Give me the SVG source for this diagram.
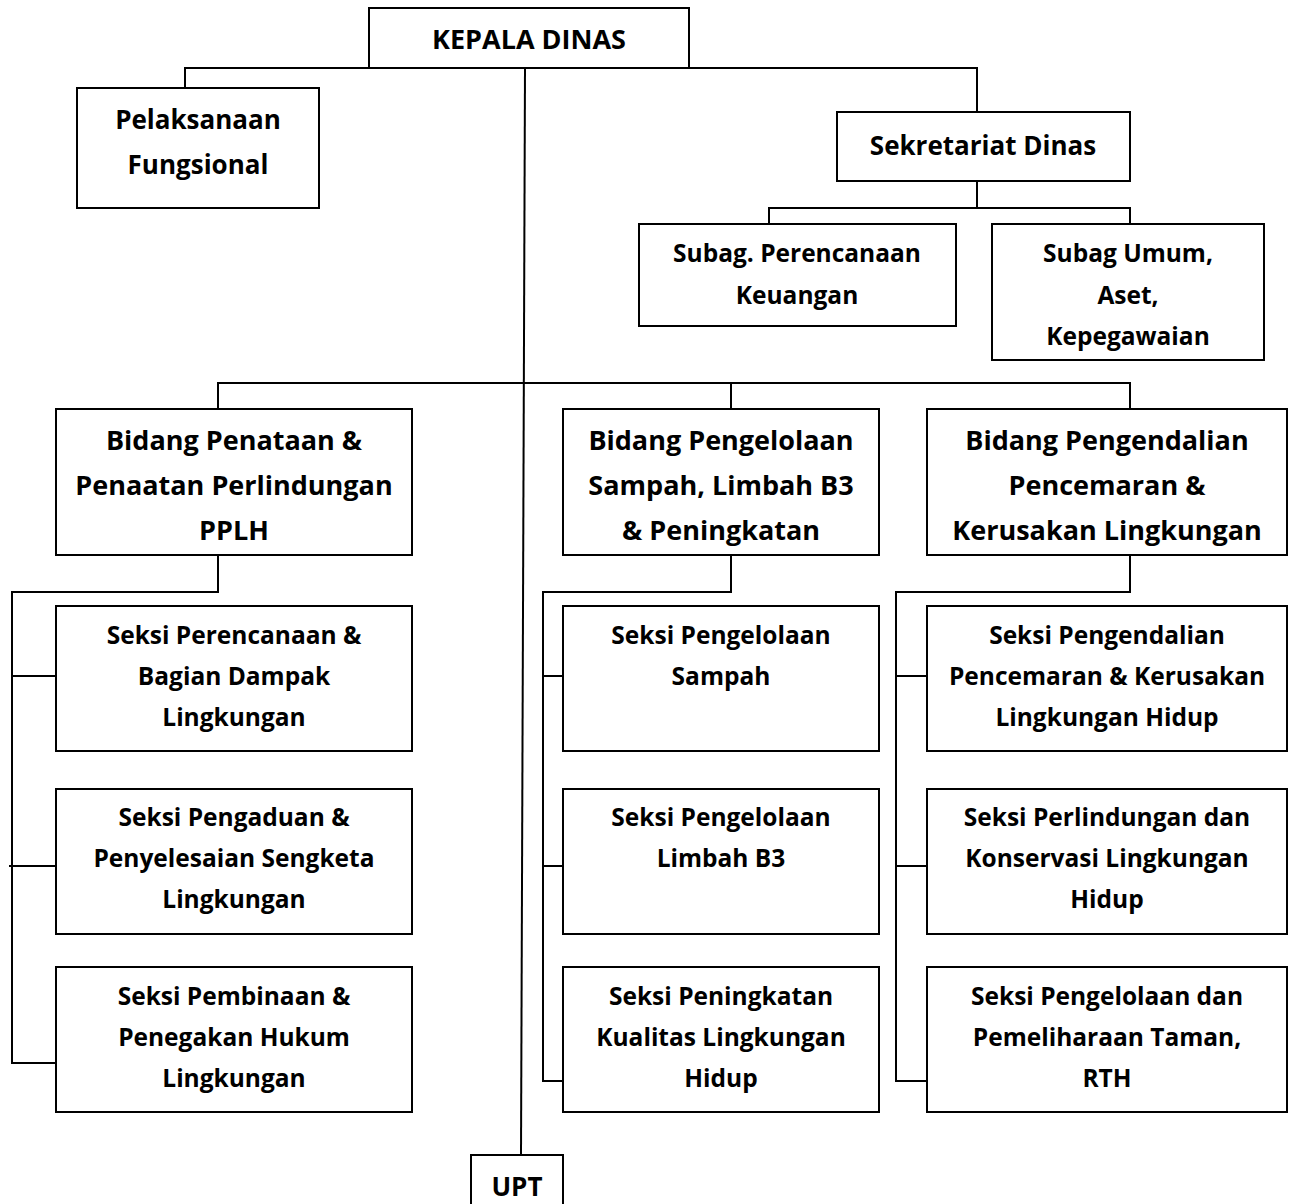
<svg xmlns="http://www.w3.org/2000/svg" width="1292" height="1204" viewBox="0 0 1292 1204">
<style>
.box{fill:#fff;stroke:#000;stroke-width:2}
.ln{fill:none;stroke:#000;stroke-width:2}
text{font-family:"Open Sans",Lato,"Liberation Sans",sans-serif;font-weight:bold;font-size:24.5px;text-anchor:middle;fill:#000}
.lg{font-size:27px}
.md{font-size:26px}
</style>
<rect width="1292" height="1204" fill="#fff"/>
<g id="connectors">
<polyline class="ln" points="185,88 185,68 977,68 977,112"/>
<polyline class="ln" points="525,68 521,1155"/>
<polyline class="ln" points="977,181 977,208"/>
<polyline class="ln" points="769,224 769,208 1130,208 1130,224"/>
<polyline class="ln" points="218,409 218,383 1130,383 1130,409"/>
<line class="ln" x1="731" y1="383" x2="731" y2="409"/>
<polyline class="ln" points="218,555 218,592 12,592 12,1063 56,1063"/>
<line class="ln" x1="12" y1="676" x2="56" y2="676"/>
<line class="ln" x1="9" y1="866" x2="56" y2="866"/>
<polyline class="ln" points="731,555 731,592 543,592 543,1081 563,1081"/>
<line class="ln" x1="543" y1="676" x2="563" y2="676"/>
<line class="ln" x1="543" y1="866" x2="563" y2="866"/>
<polyline class="ln" points="1130,555 1130,592 896,592 896,1081 929,1081"/>
<line class="ln" x1="896" y1="676" x2="927" y2="676"/>
<line class="ln" x1="896" y1="866" x2="929" y2="866"/>
</g>
<g id="kepala"><rect class="box" x="369" y="8" width="320" height="60"/><text class="lg" x="529" y="49">KEPALA DINAS</text></g>
<g id="pelaksanaan"><rect class="box" x="77" y="88" width="242" height="120"/><text class="md" x="198" y="129">Pelaksanaan</text><text class="md" x="198" y="174">Fungsional</text></g>
<g id="sekretariat"><rect class="box" x="837" y="112" width="293" height="69"/><text class="md" x="983" y="155">Sekretariat Dinas</text></g>
<g id="subag-perencanaan"><rect class="box" x="639" y="224" width="317" height="102"/><text x="797" y="262">Subag. Perencanaan</text><text x="797" y="304">Keuangan</text></g>
<g id="subag-umum"><rect class="box" x="992" y="224" width="272" height="136"/><text x="1128" y="262">Subag Umum,</text><text x="1128" y="304">Aset,</text><text x="1128" y="345">Kepegawaian</text></g>
<g id="bidang-pplh"><rect class="box" x="56" y="409" width="356" height="146"/><text class="lg" x="234" y="450">Bidang Penataan &amp;</text><text class="lg" x="234" y="495">Penaatan Perlindungan</text><text class="lg" x="234" y="540">PPLH</text></g>
<g id="bidang-sampah"><rect class="box" x="563" y="409" width="316" height="146"/><text class="lg" x="721" y="450">Bidang Pengelolaan</text><text class="lg" x="721" y="495">Sampah, Limbah B3</text><text class="lg" x="721" y="540">&amp; Peningkatan</text></g>
<g id="bidang-pengendalian"><rect class="box" x="927" y="409" width="360" height="146"/><text class="lg" x="1107" y="450">Bidang Pengendalian</text><text class="lg" x="1107" y="495">Pencemaran &amp;</text><text class="lg" x="1107" y="540">Kerusakan Lingkungan</text></g>
<g id="seksi-1a"><rect class="box" x="56" y="606" width="356" height="145"/><text x="234" y="644">Seksi Perencanaan &amp;</text><text x="234" y="685">Bagian Dampak</text><text x="234" y="726">Lingkungan</text></g>
<g id="seksi-1b"><rect class="box" x="56" y="789" width="356" height="145"/><text x="234" y="826">Seksi Pengaduan &amp;</text><text x="234" y="867">Penyelesaian Sengketa</text><text x="234" y="908">Lingkungan</text></g>
<g id="seksi-1c"><rect class="box" x="56" y="967" width="356" height="145"/><text x="234" y="1005">Seksi Pembinaan &amp;</text><text x="234" y="1046">Penegakan Hukum</text><text x="234" y="1087">Lingkungan</text></g>
<g id="seksi-2a"><rect class="box" x="563" y="606" width="316" height="145"/><text x="721" y="644">Seksi Pengelolaan</text><text x="721" y="685">Sampah</text></g>
<g id="seksi-2b"><rect class="box" x="563" y="789" width="316" height="145"/><text x="721" y="826">Seksi Pengelolaan</text><text x="721" y="867">Limbah B3</text></g>
<g id="seksi-2c"><rect class="box" x="563" y="967" width="316" height="145"/><text x="721" y="1005">Seksi Peningkatan</text><text x="721" y="1046">Kualitas Lingkungan</text><text x="721" y="1087">Hidup</text></g>
<g id="seksi-3a"><rect class="box" x="927" y="606" width="360" height="145"/><text x="1107" y="644">Seksi Pengendalian</text><text x="1107" y="685">Pencemaran &amp; Kerusakan</text><text x="1107" y="726">Lingkungan Hidup</text></g>
<g id="seksi-3b"><rect class="box" x="927" y="789" width="360" height="145"/><text x="1107" y="826">Seksi Perlindungan dan</text><text x="1107" y="867">Konservasi Lingkungan</text><text x="1107" y="908">Hidup</text></g>
<g id="seksi-3c"><rect class="box" x="927" y="967" width="360" height="145"/><text x="1107" y="1005">Seksi Pengelolaan dan</text><text x="1107" y="1046">Pemeliharaan Taman,</text><text x="1107" y="1087">RTH</text></g>
<g id="upt"><rect class="box" x="471" y="1155" width="92" height="60"/><text class="md" x="517" y="1196">UPT</text></g>
</svg>
